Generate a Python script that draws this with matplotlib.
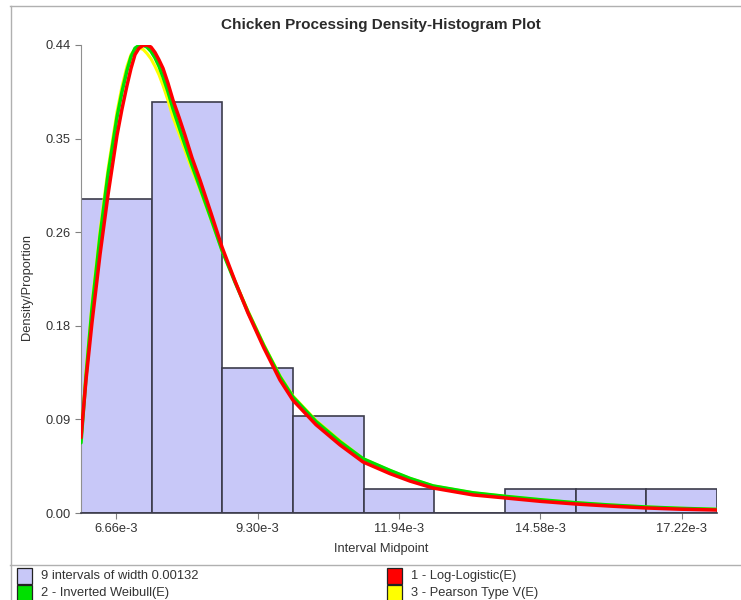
import matplotlib
matplotlib.use("Agg")
import matplotlib.pyplot as plt
from matplotlib.patches import Rectangle
from matplotlib.lines import Line2D

plt.rcParams['font.family'] = ['Liberation Sans', 'DejaVu Sans']

# histogram: 9 intervals of width 0.00132 starting at 6.00e-3
bin_start = 6.00e-3
bin_width = 0.00132
proportions = [13 / 44, 17 / 44, 6 / 44, 4 / 44, 1 / 44, 0.0, 1 / 44, 1 / 44, 1 / 44]

x_tick_labels = ["6.66e-3", "9.30e-3", "11.94e-3", "14.58e-3", "17.22e-3"]
y_ticks = [0.0, 0.088, 0.176, 0.264, 0.352, 0.44]
y_tick_labels = ["0.00", "0.09", "0.18", "0.26", "0.35", "0.44"]

# fitted densities (x in units of 1e-3)
curve_x = [6.000, 6.093, 6.205, 6.355, 6.504, 6.672, 6.766, 6.859, 6.934, 7.009,
           7.083, 7.158, 7.233, 7.308, 7.382, 7.457, 7.532, 7.625, 7.719, 7.831,
           7.943, 8.073, 8.223, 8.428, 8.634, 8.877, 9.119, 9.418, 9.717, 9.960,
           10.390, 10.838, 11.268, 11.772, 12.146, 12.575, 13.322, 13.957, 14.574,
           15.228, 15.881, 16.572, 17.189, 17.880]
log_logistic = [0.071, 0.125, 0.179, 0.243, 0.299, 0.355, 0.380, 0.402, 0.418, 0.431,
                0.437, 0.4395, 0.440, 0.438, 0.433, 0.426, 0.418, 0.404, 0.388, 0.372,
                0.355, 0.334, 0.313, 0.282, 0.250, 0.218, 0.188, 0.155, 0.125, 0.106,
                0.083, 0.064, 0.048, 0.037, 0.030, 0.0235, 0.017, 0.014, 0.011,
                0.0085, 0.0065, 0.0047, 0.0036, 0.0028]
inv_weibull = [0.066, 0.128, 0.192, 0.260, 0.318, 0.372, 0.396, 0.416, 0.429, 0.437,
               0.4395, 0.440, 0.438, 0.434, 0.428, 0.420, 0.410, 0.396, 0.380, 0.363,
               0.346, 0.327, 0.306, 0.277, 0.247, 0.217, 0.189, 0.157, 0.128, 0.109,
               0.086, 0.067, 0.051, 0.040, 0.0325, 0.0255, 0.019, 0.0155, 0.0125,
               0.0097, 0.0075, 0.0056, 0.0044, 0.0034]
pearson5 = [0.068, 0.132, 0.196, 0.265, 0.323, 0.377, 0.401, 0.420, 0.431, 0.436,
            0.437, 0.436, 0.432, 0.427, 0.420, 0.412, 0.402, 0.388, 0.372, 0.357,
            0.341, 0.323, 0.304, 0.276, 0.247, 0.218, 0.190, 0.158, 0.129, 0.110,
            0.087, 0.068, 0.051, 0.040, 0.0325, 0.0255, 0.019, 0.0155, 0.0125,
            0.0097, 0.0075, 0.0056, 0.0044, 0.0034]

legend_labels = ["9 intervals of width 0.00132", "2 - Inverted Weibull(E)",
                 "1 - Log-Logistic(E)", "3 - Pearson Type V(E)"]

W, H = 741, 600
bar_face = "#c8c8f8"
bar_edge = "#3c3c4c"
txt = "#333333"
fs = 9.3

fig = plt.figure(figsize=(W / 100, H / 100), dpi=100)
ax = fig.add_axes([81 / W, 1 - 513 / H, 636 / W, 468 / H])

mids = [bin_start + bin_width * (i + 0.5) for i in range(len(proportions))]
ax.bar(mids, proportions, width=bin_width, color=bar_face, edgecolor=bar_edge,
       linewidth=1.2, zorder=2)

cx = [v * 1e-3 for v in curve_x]
ax.plot(cx, pearson5, color="#ffff00", lw=2.2, zorder=3,
        solid_capstyle="round", solid_joinstyle="round")
ax.plot(cx, inv_weibull, color="#00e000", lw=2.5, zorder=4,
        solid_capstyle="round", solid_joinstyle="round")
ax.plot(cx, log_logistic, color="#ff0000", lw=2.5, zorder=5,
        solid_capstyle="round", solid_joinstyle="round")

ax.set_xlim(bin_start, bin_start + bin_width * len(proportions))
ax.set_ylim(0, 0.44)
ax.set_xticks(mids[::2])
ax.set_xticklabels(x_tick_labels)
ax.set_yticks(y_ticks)
ax.set_yticklabels(y_tick_labels)
ax.tick_params(labelsize=fs, labelcolor=txt, color="#808080", length=4, width=0.8)

for s in ["top", "right"]:
    ax.spines[s].set_visible(False)
ax.spines["left"].set_color("#909090")
ax.spines["bottom"].set_color(bar_edge)
ax.spines["bottom"].set_linewidth(1.2)

fig.text(381 / W, 1 - 25 / H, "Chicken Processing Density-Histogram Plot",
         ha="center", va="center", fontsize=11, fontweight="bold", color="#2a2a2a")
fig.text(381 / W, 1 - 549 / H, "Interval Midpoint", ha="center", va="center",
         fontsize=fs, color=txt)
fig.text(27 / W, 1 - 287 / H, "Density/Proportion", ha="center", va="center",
         rotation=90, fontsize=fs, color=txt)

# outer frame and legend separator
frame = "#b0b0b0"
fig.add_artist(Line2D([10 / W, 1], [1 - 6 / H, 1 - 6 / H], color=frame, lw=1))
fig.add_artist(Line2D([10.5 / W, 10.5 / W], [0, 1 - 6 / H], color=frame, lw=1))
fig.add_artist(Line2D([10 / W, 1], [1 - 565 / H, 1 - 565 / H], color=frame, lw=1))

# legend, drawn by hand
legend_colors = [bar_face, "#00e000", "#ff0000", "#ffff00"]
col_x = [17, 387]
row_y = [568, 585]
for i, (lab, c) in enumerate(zip(legend_labels, legend_colors)):
    px = col_x[i // 2]
    py = row_y[i % 2]
    fig.add_artist(Rectangle((px / W, 1 - (py + 16) / H), 15 / W, 16 / H,
                             facecolor=c, edgecolor="#222222", lw=0.9))
    fig.text((px + 24) / W, 1 - (py + 8) / H, lab, ha="left", va="center",
             fontsize=fs, color=txt)

fig.savefig("out.png", dpi=100)
